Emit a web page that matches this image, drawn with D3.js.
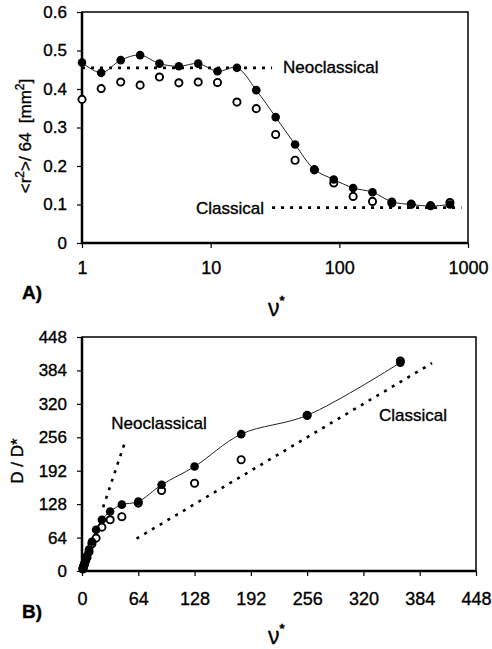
<!DOCTYPE html>
<html>
<head>
<meta charset="utf-8">
<script src="https://cdn.jsdelivr.net/npm/d3@7"></script>
<style>
  body { margin: 0; background: #fff; }
  svg { display: block; font-family: "Liberation Sans", Arial, sans-serif; }
  svg text { stroke: #000; stroke-width: 0.35px; fill: #000; white-space: pre; }
</style>
</head>
<body>
<svg id="chart" width="492" height="649"></svg>
<script>
// ---- data ----
// panel A: <r^2>/64 vs nu*
const nuA = [1, 1.41, 2, 2.83, 4, 5.66, 8, 11.3, 16, 22.6, 32, 45.3, 64, 90.5, 128, 181, 256, 362, 512, 724];
const r2Filled = [0.469, 0.442, 0.475, 0.488, 0.466, 0.459, 0.466, 0.446, 0.455, 0.397, 0.327, 0.256, 0.191, 0.165, 0.143, 0.132, 0.107, 0.100, 0.096, 0.100];
const r2Open = [0.373, 0.401, 0.418, 0.410, 0.431, 0.416, 0.418, 0.417, 0.366, 0.349, 0.282, 0.215, 0.190, 0.156, 0.121, 0.108, 0.104, 0.101, 0.097, 0.105];
const neoA = { nu: [1, 30], val: [0.455, 0.455] };
const classA = { nu: [30, 890], val: [0.092, 0.092] };
const ticksAx = [1, 10, 100, 1000];
const ticksAy = [0, 0.1, 0.2, 0.3, 0.4, 0.5, 0.6];

// panel B: D/D* vs nu*
const nuB = [1, 1.41, 2, 2.83, 4, 5.66, 8, 11.3, 16, 22.6, 32, 45.3, 64, 90.5, 128, 181, 256, 362];
const dFilled = [5, 7, 10, 15, 20, 29, 41, 56, 79, 98, 114, 127, 133, 165, 200, 262, 298, 399];
const dOpen = [4, 6, 9, 13, 19, 26, 37, 52, 63, 84, 98, 104, 130, 154, 168, 213, 298, 402];
const neoB = { nu: [24, 48.5], val: [122, 245] };
const classB = { nu: [62, 398], val: [62, 398] };
const ticksB = [0, 64, 128, 192, 256, 320, 384, 448];

const svg = d3.select("#chart");

// panel drawing helper
function drawPanel(p) {
  const g = svg.append("g");

  // axes
  const xAxis = g.append("g")
    .attr("transform", `translate(0,${p.bottom})`)
    .call(d3.axisBottom(p.x).tickValues(p.xTicks).tickFormat(p.xFormat).tickSize(5).tickPadding(p.xPad));
  const yAxis = g.append("g")
    .attr("transform", `translate(${p.left},0)`)
    .call(d3.axisLeft(p.y).tickValues(p.yTicks).tickFormat(p.yFormat).tickSize(5).tickPadding(10));
  [xAxis, yAxis].forEach((a) => {
    a.select(".domain").remove();
    a.selectAll("line").attr("stroke", "#000").attr("stroke-width", 1.2);
    a.selectAll("text").attr("fill", "#000").style("font-size", p.tickFont).style("font-family", "inherit");
  });
  xAxis.selectAll("text").style("font-size", p.xTickFont);

  // frame
  g.append("rect")
    .attr("x", p.left).attr("y", p.top)
    .attr("width", p.right - p.left).attr("height", p.bottom - p.top)
    .attr("fill", "none").attr("stroke", "#000").attr("stroke-width", 1.5);
  g.append("path")
    .attr("d", `M${p.left},${p.top}V${p.bottom}H${p.right}`)
    .attr("fill", "none").attr("stroke", "#000").attr("stroke-width", 2.5);

  // dotted reference lines
  const refLine = d3.line().x((d) => p.x(d[0])).y((d) => p.y(d[1]));
  p.refs.forEach((r) => {
    g.append("path")
      .attr("d", refLine(d3.zip(r.nu, r.val)))
      .attr("fill", "none").attr("stroke", "#000")
      .attr("stroke-width", 2.6).attr("stroke-dasharray", "3,6");
  });

  // smooth line through filled points
  const line = d3.line().x((d) => p.x(d[0])).y((d) => p.y(d[1])).curve(d3.curveCatmullRom);
  g.append("path")
    .attr("d", line(d3.zip(p.nu, p.filled)))
    .attr("fill", "none").attr("stroke", "#222").attr("stroke-width", 1);

  // open circles
  g.selectAll(".open").data(d3.zip(p.nu, p.open)).enter()
    .append("circle").attr("class", "open")
    .attr("cx", (d) => p.x(d[0])).attr("cy", (d) => p.y(d[1])).attr("r", 3.6)
    .attr("fill", "#fff").attr("stroke", "#000").attr("stroke-width", 1.9);

  // filled circles
  g.selectAll(".filled").data(d3.zip(p.nu, p.filled)).enter()
    .append("circle").attr("class", "filled")
    .attr("cx", (d) => p.x(d[0])).attr("cy", (d) => p.y(d[1])).attr("r", 4.3)
    .attr("fill", "#000");

  // annotation labels
  p.labels.forEach((l) => {
    g.append("text").attr("x", l.x).attr("y", l.y).attr("text-anchor", l.anchor)
      .style("font-size", "17px").text(l.text);
  });

  // nu* axis title
  const t = g.append("text").attr("x", p.nuX).attr("y", p.nuY);
  t.append("tspan").style("font-size", "23px").text("ν");
  t.append("tspan").attr("dy", -11).style("font-size", "13px").style("font-weight", "bold").text("*");

  // panel tag
  g.append("text").attr("x", 22).attr("y", p.tagY)
    .style("font-size", "19px").style("font-weight", "bold").text(p.tag);

  return g;
}

// ---- panel A ----
const xA = d3.scaleLog().domain([1, 1000]).range([82, 468]);
const yA = d3.scaleLinear().domain([0, 0.6]).range([243, 12]);
const gA = drawPanel({
  x: xA, y: yA, left: 82, right: 468, top: 12, bottom: 243,
  xTicks: ticksAx, yTicks: ticksAy,
  xFormat: d3.format("d"), yFormat: (d) => (d === 0 ? "0" : d3.format(".1f")(d)),
  xPad: 13, tickFont: "17px", xTickFont: "18px",
  nu: nuA, filled: r2Filled, open: r2Open,
  refs: [neoA, classA],
  labels: [
    { text: "Neoclassical", x: 283, y: 73, anchor: "start" },
    { text: "Classical", x: 264, y: 214, anchor: "end" }
  ],
  nuX: 268, nuY: 316, tag: "A)", tagY: 299
});

// y title A
const yTitleA = gA.append("text")
  .attr("transform", "translate(31,136) rotate(-90)")
  .attr("text-anchor", "middle").style("font-size", "17px");
yTitleA.append("tspan").text("<r");
yTitleA.append("tspan").attr("dy", -7).style("font-size", "12px").text("2");
yTitleA.append("tspan").attr("dy", 7).text(">/ 64  [mm");
yTitleA.append("tspan").attr("dy", -7).style("font-size", "12px").text("2");
yTitleA.append("tspan").attr("dy", 7).text("]");

// ---- panel B ----
const xB = d3.scaleLinear().domain([0, 448]).range([82, 476]);
const yB = d3.scaleLinear().domain([0, 448]).range([571, 337]);
const gB = drawPanel({
  x: xB, y: yB, left: 82, right: 476, top: 337, bottom: 571,
  xTicks: ticksB, yTicks: ticksB,
  xFormat: d3.format("d"), yFormat: d3.format("d"),
  xPad: 16, tickFont: "17px", xTickFont: "18px",
  nu: nuB, filled: dFilled, open: dOpen,
  refs: [neoB, classB],
  labels: [
    { text: "Neoclassical", x: 159, y: 429, anchor: "middle" },
    { text: "Classical", x: 413, y: 421, anchor: "middle" }
  ],
  nuX: 268, nuY: 644, tag: "B)", tagY: 618
});

// y title B
gB.append("text")
  .attr("transform", "translate(23,461) rotate(-90)")
  .attr("text-anchor", "middle").style("font-size", "17px")
  .text("D / D*");
</script>
</body>
</html>
